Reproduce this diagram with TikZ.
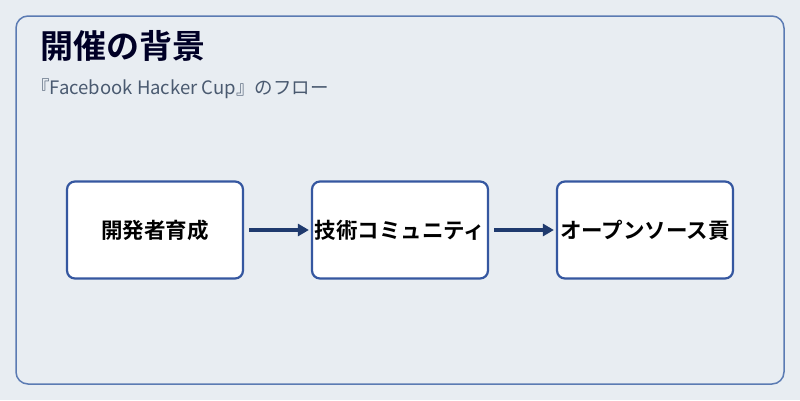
\documentclass[tikz,border=0pt]{standalone}
\usepackage{fontspec}
\newfontfamily\cjk{Noto Sans CJK JP}
\newfontfamily\cjkb{Noto Sans CJK JP Bold}
\usetikzlibrary{positioning, arrows.meta}
\definecolor{bgcol}{HTML}{E8EDF2}
\definecolor{framecol}{HTML}{5B7BB3}
\definecolor{boxcol}{HTML}{3557A0}
\definecolor{arrcol}{HTML}{1F3A6E}
\definecolor{subcol}{HTML}{4A5A70}
\tikzset{
    % arrow tip
    >={Triangle[length=11pt,width=12pt]},
    % step boxes
    stepbox/.style={
           rectangle,
           rounded corners=8pt,
           draw=boxcol, line width=2.2pt,
           fill=white,
           minimum width=176pt,
           minimum height=97pt,
           inner sep=0pt,
           font=\cjkb\fontsize{21.5}{24}\selectfont,
           text centered},
    % arrows
    pil/.style={
           ->,
           draw=arrcol, fill=arrcol,
           line width=3.5pt}
}
\begin{document}
\begin{tikzpicture}[x=1pt,y=-1pt]
\useasboundingbox (0,0) rectangle (800,400);
\fill[bgcol] (0,0) rectangle (800,400);
\draw[framecol, line width=1.5pt, rounded corners=12pt] (16,16) rectangle (784,384);

\node[anchor=west, inner sep=0pt, font=\cjkb\fontsize{33}{36}\selectfont, text=black!85!blue] (title) at (40,46) {開催の背景};
\node[anchor=west, inner sep=0pt, font=\cjk\fontsize{18.5}{21}\selectfont, text=subcol] (sub) at (31,89) {『Facebook Hacker Cup』のフロー};

\node[stepbox] (dev) at (155,230) {開発者育成};
\node[stepbox] (com) at (400,230) {技術コミュニティ};
\node[stepbox] (oss) at (645,230) {オープンソース貢};

\draw[pil] (dev.east) ++(5,0) coordinate (a1) -- ([xshift=-2pt]com.west);
\draw[pil] (com.east) ++(5,0) coordinate (a2) -- ([xshift=-2pt]oss.west);
\end{tikzpicture}
\end{document}
